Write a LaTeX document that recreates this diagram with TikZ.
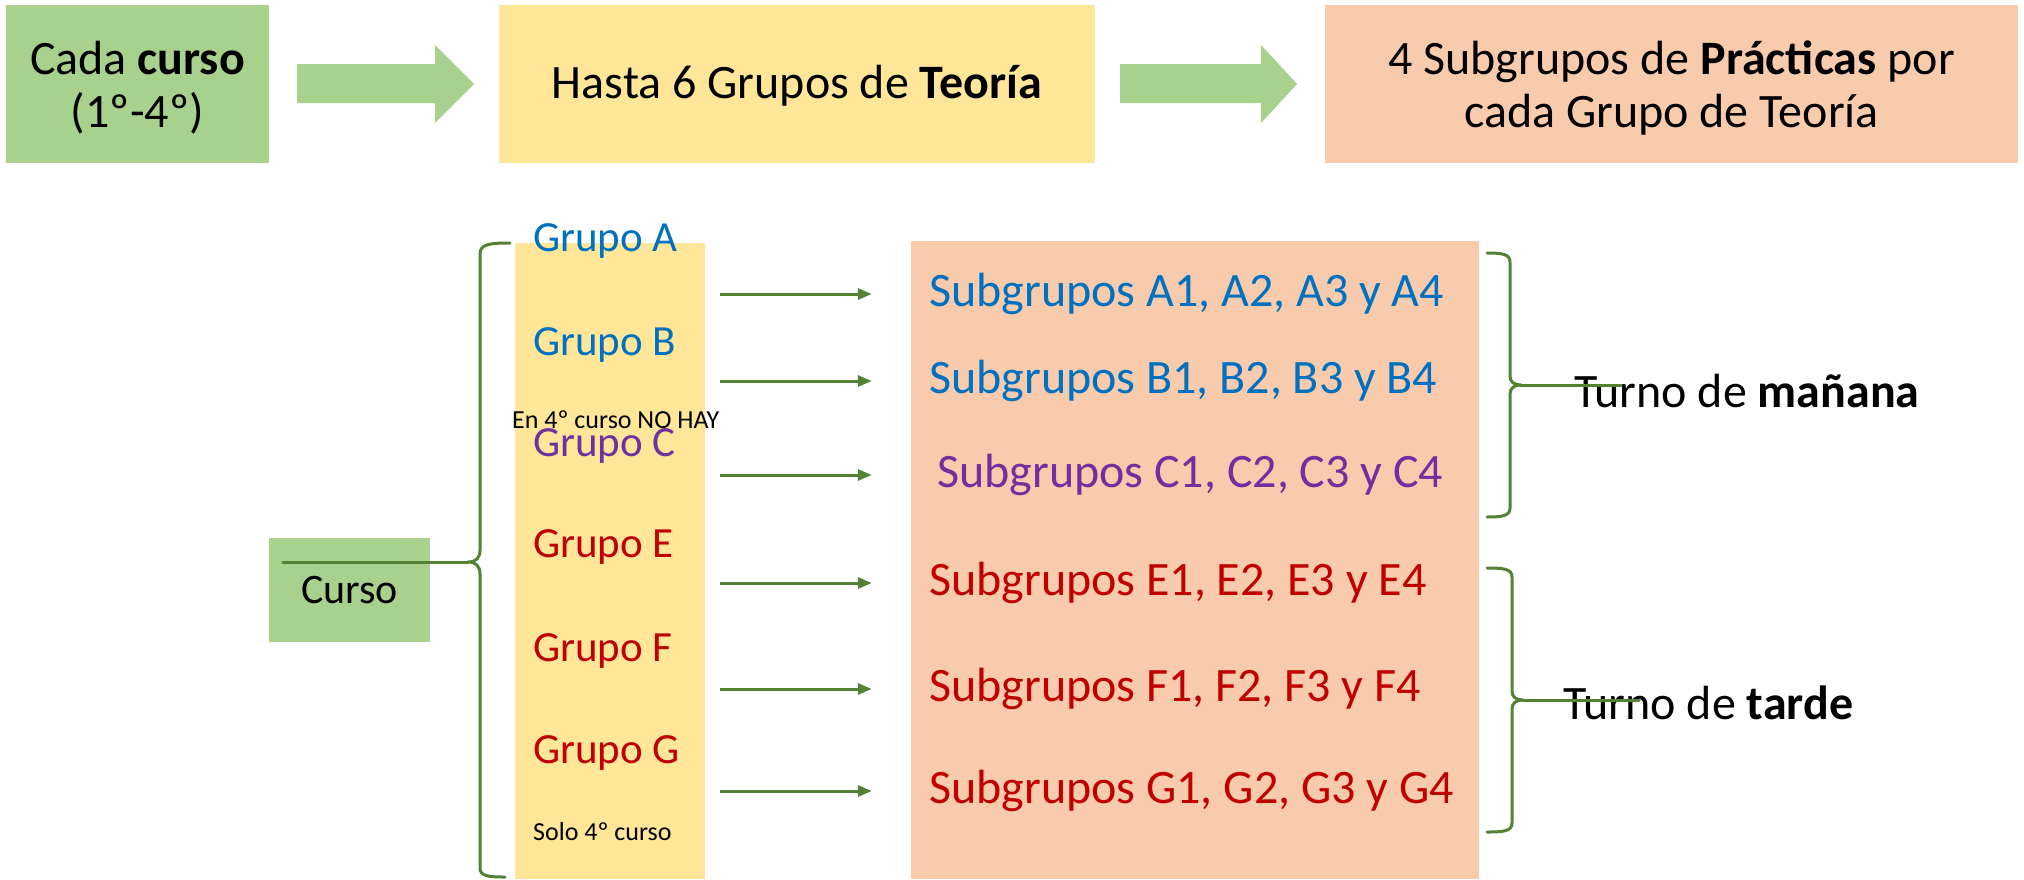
\documentclass[tikz,border=0pt]{standalone}
\usepackage{fontspec}
\setmainfont{Carlito}
\usetikzlibrary{arrows.meta,calc}
\definecolor{gfill}{HTML}{A9D18E}
\definecolor{yfill}{HTML}{FFE699}
\definecolor{sfill}{HTML}{F8CBAD}
\definecolor{lgreen}{HTML}{548235}
\definecolor{tblue}{HTML}{0070C0}
\definecolor{tpurple}{HTML}{7030A0}
\definecolor{tred}{HTML}{C00000}
\begin{document}
\begin{tikzpicture}[x=1pt,y=-1pt,
  boxst/.style={draw=none,inner sep=0pt,align=center},
  bigtxt/.style={font=\fontsize{48}{53}\selectfont,inner sep=0pt,align=center},
  grp/.style={font=\fontsize{43}{50}\selectfont,inner sep=0pt,anchor=west},
  subl/.style={font=\fontsize{48}{56}\selectfont,inner sep=0pt,anchor=west},
  smalltxt/.style={font=\fontsize{26}{30}\selectfont,inner sep=0pt,anchor=west,text=black},
  conn/.style={draw=lgreen,line width=3pt,-{Triangle[length=14pt,width=11pt]}},
  bracest/.style={draw=lgreen,line width=3pt,line cap=round,line join=round},
  fatarrow/.style={fill=gfill,draw=none}]
\useasboundingbox (0,0) rectangle (2024,879);
\fill[white] (0,0) rectangle (2024,879);

% top row
\node[boxst,fill=gfill,minimum width=263pt,minimum height=158pt] (g1) at (137.5,84) {};
\node[boxst,fill=yfill,minimum width=596pt,minimum height=158pt] (y1) at (797,84) {};
\node[boxst,fill=sfill,minimum width=693pt,minimum height=158pt] (s1) at (1671.5,84) {};
\node[bigtxt] (g1t) at (137.5,88) {Cada \textbf{curso}\\(1º-4º)};
\node[bigtxt] (y1t) at (797,86) {Hasta 6 Grupos de \textbf{Teoría}};
\node[bigtxt] (s1t) at (1671.5,88) {4 Subgrupos de \textbf{Prácticas} por\\cada Grupo de Teoría};

\fill[fatarrow] (297,64) -- (435,64) -- (435,45) -- (474,84) -- (435,123) -- (435,103) -- (297,103) -- cycle;
\fill[fatarrow] (1120,64) -- (1261,64) -- (1261,45) -- (1297,84) -- (1261,123) -- (1261,103) -- (1120,103) -- cycle;

% columns
\node[boxst,fill=yfill,minimum width=190pt,minimum height=636pt] (ycol) at (610,561) {};
\node[boxst,fill=sfill,minimum width=568pt,minimum height=638pt] (scol) at (1195,560) {};
\node[boxst,fill=gfill,minimum width=161pt,minimum height=104pt,font=\fontsize{42}{50}\selectfont] (curso) at (349.5,590) {\raisebox{-6pt}{Curso}};

% group labels
\node[grp,text=tblue] (ga) at (533,241) {Grupo A};
\node[grp,text=tblue] (gb) at (533,345) {Grupo B};
\node[grp,text=tpurple] (gc) at (533,446) {Grupo C};
\node[grp,text=tred] (ge) at (533,547) {Grupo E};
\node[grp,text=tred] (gf) at (533,651) {Grupo F};
\node[grp,text=tred] (gg) at (533,753) {Grupo G};
\node[smalltxt] (nohay) at (512,420) {En 4º curso NO HAY};
\node[smalltxt] (solo) at (533,832) {Solo 4º curso};

% subgroup labels
\node[subl,text=tblue] (sa) at (929,294) {Subgrupos A1, A2, A3 y A4};
\node[subl,text=tblue] (sb) at (929,381) {Subgrupos B1, B2, B3 y B4};
\node[subl,text=tpurple] (sc) at (937,475) {Subgrupos C1, C2, C3 y C4};
\node[subl,text=tred] (se) at (929,583) {Subgrupos E1, E2, E3 y E4};
\node[subl,text=tred] (sf) at (929,689) {Subgrupos F1, F2, F3 y F4};
\node[subl,text=tred] (sg) at (929,791) {Subgrupos G1, G2, G3 y G4};

% connectors
\foreach \s in {sa,sb,sc,se,sf,sg}{
  \draw[conn] ($(ycol.east |- \s)+(15,0)$) -- ($(scol.west |- \s)+(-39,0)$);
}

% left brace
\coordinate (lbtip) at (468,562);
\draw[bracest] (510,243) .. controls (490,243) and (480,244) .. (480,254) -- (480,550)
  .. controls (480,558) and (476,562) .. (lbtip)
  .. controls (476,562) and (480,566) .. (480,574) -- (480,868)
  .. controls (480,876) and (488,877) .. (505,877);
\draw[bracest] ($(curso.west |- lbtip)+(14,0)$) -- (lbtip);

% right braces
\coordinate (rbt1) at (1521,385);
\coordinate (rbt2) at (1523,700);
\draw[bracest] (1487,253) .. controls (1502,253) and (1510,254) .. (1510,262) -- (1510,376)
  .. controls (1510,382) and (1514,385) .. (rbt1)
  .. controls (1514,385) and (1510,388) .. (1510,394) -- (1510,508)
  .. controls (1510,516) and (1502,517) .. (1487,517);
\draw[bracest] (1487,568) .. controls (1504,568) and (1512,569) .. (1512,577) -- (1512,691)
  .. controls (1512,697) and (1516,700) .. (rbt2)
  .. controls (1516,700) and (1512,703) .. (1512,709) -- (1512,823)
  .. controls (1512,831) and (1504,832) .. (1487,832);

\node[subl,text=black] (tm) at (1574,391) {Turno de \textbf{mañana}};
\node[subl,text=black] (tt) at (1563,703) {Turno de \textbf{tarde}};
\draw[bracest] (rbt1) -- ($(tm.west |- rbt1)+(47,0)$);
\draw[bracest] (rbt2) -- ($(tt.west |- rbt2)+(76,0)$);
\end{tikzpicture}
\end{document}
